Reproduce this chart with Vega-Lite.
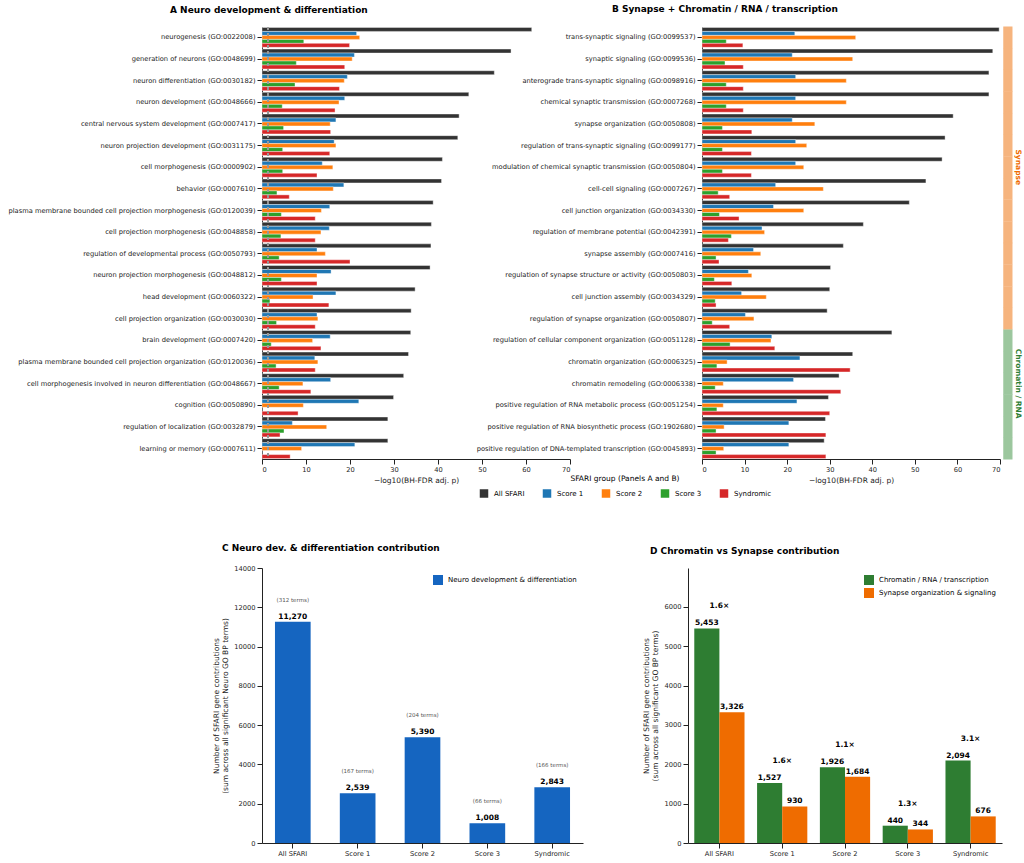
{
  "$schema": "https://vega.github.io/schema/vega-lite/v6.json",
  "background": "white",
  "spacing": 42,
  "config": {
    "font": "DejaVu Sans",
    "view": {"stroke": null},
    "axis": {"labelFontSize": 6.7, "titleFontSize": 7.5, "titleFontWeight": "normal", "labelColor": "#222", "titleColor": "#222", "domainColor": "#222", "tickColor": "#222", "grid": false},
    "title": {"fontSize": 9, "fontWeight": "bold", "anchor": "start", "frame": "group", "offset": 12},
    "legend": {"labelFontSize": 7, "titleFontSize": 7.5, "titleFontWeight": "normal", "symbolType": "square"}
  },
  "datasets": {
    "a": [
      {"t": "neurogenesis  (GO:0022008)", "All SFARI": 61.3, "Score 1": 21.5, "Score 2": 22.2, "Score 3": 9.5, "Syndromic": 19.9},
      {"t": "generation of neurons  (GO:0048699)", "All SFARI": 56.6, "Score 1": 21.0, "Score 2": 20.5, "Score 3": 7.8, "Syndromic": 18.8},
      {"t": "neuron differentiation  (GO:0030182)", "All SFARI": 52.8, "Score 1": 19.4, "Score 2": 18.7, "Score 3": 7.5, "Syndromic": 17.6},
      {"t": "neuron development  (GO:0048666)", "All SFARI": 47.0, "Score 1": 18.8, "Score 2": 17.5, "Score 3": 4.6, "Syndromic": 16.6},
      {"t": "central nervous system development  (GO:0007417)", "All SFARI": 44.8, "Score 1": 16.8, "Score 2": 15.5, "Score 3": 4.9, "Syndromic": 15.6},
      {"t": "neuron projection development  (GO:0031175)", "All SFARI": 44.5, "Score 1": 16.4, "Score 2": 16.8, "Score 3": 4.7, "Syndromic": 15.4},
      {"t": "cell morphogenesis  (GO:0000902)", "All SFARI": 41.0, "Score 1": 13.7, "Score 2": 16.1, "Score 3": 4.7, "Syndromic": 12.5},
      {"t": "behavior  (GO:0007610)", "All SFARI": 40.8, "Score 1": 18.6, "Score 2": 16.2, "Score 3": 3.4, "Syndromic": 6.2},
      {"t": "plasma membrane bounded cell projection morphogenesis  (GO:0120039)", "All SFARI": 38.9, "Score 1": 15.4, "Score 2": 13.5, "Score 3": 4.4, "Syndromic": 12.1},
      {"t": "cell projection morphogenesis  (GO:0048858)", "All SFARI": 38.5, "Score 1": 15.3, "Score 2": 13.4, "Score 3": 4.3, "Syndromic": 12.1},
      {"t": "regulation of developmental process  (GO:0050793)", "All SFARI": 38.4, "Score 1": 12.5, "Score 2": 14.4, "Score 3": 3.9, "Syndromic": 20.0},
      {"t": "neuron projection morphogenesis  (GO:0048812)", "All SFARI": 38.2, "Score 1": 15.7, "Score 2": 12.5, "Score 3": 4.4, "Syndromic": 12.5},
      {"t": "head development  (GO:0060322)", "All SFARI": 34.8, "Score 1": 16.8, "Score 2": 11.6, "Score 3": 1.8, "Syndromic": 15.2},
      {"t": "cell projection organization  (GO:0030030)", "All SFARI": 33.9, "Score 1": 12.5, "Score 2": 12.7, "Score 3": 3.3, "Syndromic": 12.1},
      {"t": "brain development  (GO:0007420)", "All SFARI": 33.8, "Score 1": 15.5, "Score 2": 11.5, "Score 3": 2.1, "Syndromic": 13.4},
      {"t": "plasma membrane bounded cell projection organization  (GO:0120036)", "All SFARI": 33.3, "Score 1": 12.0, "Score 2": 12.7, "Score 3": 3.2, "Syndromic": 12.1},
      {"t": "cell morphogenesis involved in neuron differentiation  (GO:0048667)", "All SFARI": 32.2, "Score 1": 15.6, "Score 2": 9.3, "Score 3": 3.9, "Syndromic": 11.1},
      {"t": "cognition  (GO:0050890)", "All SFARI": 29.9, "Score 1": 22.0, "Score 2": 9.4, "Score 3": 0, "Syndromic": 8.2},
      {"t": "regulation of localization  (GO:0032879)", "All SFARI": 28.6, "Score 1": 6.9, "Score 2": 14.7, "Score 3": 5.0, "Syndromic": 4.1},
      {"t": "learning or memory  (GO:0007611)", "All SFARI": 28.6, "Score 1": 21.1, "Score 2": 9.0, "Score 3": 0, "Syndromic": 6.4}
    ],
    "b": [
      {"t": "trans-synaptic signaling  (GO:0099537)", "grp": "Synapse", "All SFARI": 69.8, "Score 1": 21.8, "Score 2": 36.1, "Score 3": 5.7, "Syndromic": 9.6},
      {"t": "synaptic signaling  (GO:0099536)", "grp": "Synapse", "All SFARI": 68.3, "Score 1": 21.2, "Score 2": 35.4, "Score 3": 5.4, "Syndromic": 9.7},
      {"t": "anterograde trans-synaptic signaling  (GO:0098916)", "grp": "Synapse", "All SFARI": 67.4, "Score 1": 22.0, "Score 2": 33.9, "Score 3": 5.7, "Syndromic": 9.7},
      {"t": "chemical synaptic transmission  (GO:0007268)", "grp": "Synapse", "All SFARI": 67.4, "Score 1": 22.0, "Score 2": 33.9, "Score 3": 5.7, "Syndromic": 9.7},
      {"t": "synapse organization  (GO:0050808)", "grp": "Synapse", "All SFARI": 59.0, "Score 1": 21.2, "Score 2": 26.5, "Score 3": 4.8, "Syndromic": 11.7},
      {"t": "regulation of trans-synaptic signaling  (GO:0099177)", "grp": "Synapse", "All SFARI": 57.1, "Score 1": 22.0, "Score 2": 24.6, "Score 3": 4.8, "Syndromic": 11.6},
      {"t": "modulation of chemical synaptic transmission  (GO:0050804)", "grp": "Synapse", "All SFARI": 56.4, "Score 1": 22.0, "Score 2": 23.9, "Score 3": 4.8, "Syndromic": 11.6},
      {"t": "cell-cell signaling  (GO:0007267)", "grp": "Synapse", "All SFARI": 52.6, "Score 1": 17.3, "Score 2": 28.5, "Score 3": 3.8, "Syndromic": 6.5},
      {"t": "cell junction organization  (GO:0034330)", "grp": "Synapse", "All SFARI": 48.7, "Score 1": 16.8, "Score 2": 23.9, "Score 3": 4.1, "Syndromic": 8.7},
      {"t": "regulation of membrane potential  (GO:0042391)", "grp": "Synapse", "All SFARI": 37.9, "Score 1": 14.1, "Score 2": 14.7, "Score 3": 6.9, "Syndromic": 6.2},
      {"t": "synapse assembly  (GO:0007416)", "grp": "Synapse", "All SFARI": 33.2, "Score 1": 12.1, "Score 2": 13.8, "Score 3": 3.3, "Syndromic": 4.0},
      {"t": "regulation of synapse structure or activity  (GO:0050803)", "grp": "Synapse", "All SFARI": 30.2, "Score 1": 10.9, "Score 2": 11.7, "Score 3": 2.9, "Syndromic": 7.0},
      {"t": "cell junction assembly  (GO:0034329)", "grp": "Synapse", "All SFARI": 30.0, "Score 1": 9.3, "Score 2": 15.1, "Score 3": 3.1, "Syndromic": 3.3},
      {"t": "regulation of synapse organization  (GO:0050807)", "grp": "Synapse", "All SFARI": 29.4, "Score 1": 10.2, "Score 2": 12.2, "Score 3": 2.4, "Syndromic": 6.5},
      {"t": "regulation of cellular component organization  (GO:0051128)", "grp": "Chromatin / RNA", "All SFARI": 44.6, "Score 1": 16.4, "Score 2": 16.2, "Score 3": 6.6, "Syndromic": 17.1},
      {"t": "chromatin organization  (GO:0006325)", "grp": "Chromatin / RNA", "All SFARI": 35.4, "Score 1": 23.0, "Score 2": 5.9, "Score 3": 3.5, "Syndromic": 34.8},
      {"t": "chromatin remodeling  (GO:0006338)", "grp": "Chromatin / RNA", "All SFARI": 32.2, "Score 1": 21.5, "Score 2": 5.0, "Score 3": 3.1, "Syndromic": 32.6},
      {"t": "positive regulation of RNA metabolic process  (GO:0051254)", "grp": "Chromatin / RNA", "All SFARI": 29.7, "Score 1": 22.3, "Score 2": 5.0, "Score 3": 3.5, "Syndromic": 30.0},
      {"t": "positive regulation of RNA biosynthetic process  (GO:1902680)", "grp": "Chromatin / RNA", "All SFARI": 29.0, "Score 1": 20.4, "Score 2": 5.2, "Score 3": 3.3, "Syndromic": 29.1},
      {"t": "positive regulation of DNA-templated transcription  (GO:0045893)", "grp": "Chromatin / RNA", "All SFARI": 28.7, "Score 1": 20.4, "Score 2": 5.1, "Score 3": 3.3, "Syndromic": 29.1}
    ],
    "bandlabels": [
      {"t": "modulation of chemical synaptic transmission  (GO:0050804)", "grp": "Synapse"},
      {"t": "chromatin remodeling  (GO:0006338)", "grp": "Chromatin / RNA"}
    ],
    "c": [
      {"g": "All SFARI", "v": 11270, "terms": "(312 terms)"},
      {"g": "Score 1", "v": 2539, "terms": "(167 terms)"},
      {"g": "Score 2", "v": 5390, "terms": "(204 terms)"},
      {"g": "Score 3", "v": 1008, "terms": "(66 terms)"},
      {"g": "Syndromic", "v": 2843, "terms": "(166 terms)"}
    ],
    "d": [
      {"g": "All SFARI", "s": "Chromatin / RNA / transcription", "v": 5453},
      {"g": "All SFARI", "s": "Synapse organization & signaling", "v": 3326},
      {"g": "Score 1", "s": "Chromatin / RNA / transcription", "v": 1527},
      {"g": "Score 1", "s": "Synapse organization & signaling", "v": 930},
      {"g": "Score 2", "s": "Chromatin / RNA / transcription", "v": 1926},
      {"g": "Score 2", "s": "Synapse organization & signaling", "v": 1684},
      {"g": "Score 3", "s": "Chromatin / RNA / transcription", "v": 440},
      {"g": "Score 3", "s": "Synapse organization & signaling", "v": 344},
      {"g": "Syndromic", "s": "Chromatin / RNA / transcription", "v": 2094},
      {"g": "Syndromic", "s": "Synapse organization & signaling", "v": 676}
    ],
    "dratio": [
      {"g": "All SFARI", "r": "1.6×", "top": 5453},
      {"g": "Score 1", "r": "1.6×", "top": 1527},
      {"g": "Score 2", "r": "1.1×", "top": 1926},
      {"g": "Score 3", "r": "1.3×", "top": 440},
      {"g": "Syndromic", "r": "3.1×", "top": 2094}
    ]
  },
  "vconcat": [
    {
      "bounds": "flush",
      "spacing": 132,
      "hconcat": [
        {
          "width": 308,
          "height": 432,
          "title": {"text": "A     Neuro development & differentiation", "dx": -92},
          "data": {"name": "a"},
          "layer": [
            {
              "transform": [{"fold": ["All SFARI", "Score 1", "Score 2", "Score 3", "Syndromic"], "as": ["group", "v"]}],
              "mark": {"type": "bar", "stroke": "white", "strokeWidth": 0.4},
              "encoding": {
                "y": {"field": "t", "type": "nominal", "sort": null, "title": null, "scale": {"paddingInner": 0.08, "paddingOuter": 0.02}, "axis": {"labelLimit": 400}},
                "yOffset": {"field": "group", "type": "nominal", "sort": ["All SFARI", "Score 1", "Score 2", "Score 3", "Syndromic"], "scale": {"paddingInner": 0}},
                "x": {"field": "v", "type": "quantitative", "scale": {"domain": [0, 70], "nice": false}, "axis": {"values": [0, 10, 20, 30, 40, 50, 60, 70]}, "title": "−log10(BH-FDR adj. p)"},
                "color": {
                  "field": "group", "type": "nominal",
                  "scale": {"domain": ["All SFARI", "Score 1", "Score 2", "Score 3", "Syndromic"], "range": ["#333333", "#1f77b4", "#ff7f0e", "#2ca02c", "#d62728"]},
                  "legend": {"title": "SFARI group (Panels A and B)", "orient": "none", "legendX": 216, "legendY": 448, "direction": "horizontal", "titleAnchor": "middle", "columnPadding": 14}
                }
              }
            },
            {
              "mark": {"type": "rule", "strokeDash": [3, 3], "color": "#999", "strokeWidth": 0.8},
              "encoding": {"x": {"datum": 1.3}}
            }
          ]
        },
        {
          "width": 298,
          "height": 432,
          "title": {"text": "B     Synapse + Chromatin / RNA / transcription", "dx": -90},
          "layer": [
            {
              "data": {"name": "b"},
              "transform": [{"fold": ["All SFARI", "Score 1", "Score 2", "Score 3", "Syndromic"], "as": ["group", "v"]}],
              "mark": {"type": "bar", "stroke": "white", "strokeWidth": 0.4},
              "encoding": {
                "y": {"field": "t", "type": "nominal", "sort": null, "title": null, "scale": {"paddingInner": 0.08, "paddingOuter": 0.02}, "axis": {"labelLimit": 400}},
                "yOffset": {"field": "group", "type": "nominal", "sort": ["All SFARI", "Score 1", "Score 2", "Score 3", "Syndromic"], "scale": {"paddingInner": 0}},
                "x": {"field": "v", "type": "quantitative", "scale": {"domain": [0, 70], "nice": false}, "axis": {"values": [0, 10, 20, 30, 40, 50, 60, 70]}, "title": "−log10(BH-FDR adj. p)"},
                "color": {"field": "group", "type": "nominal", "scale": {"domain": ["All SFARI", "Score 1", "Score 2", "Score 3", "Syndromic"], "range": ["#333333", "#1f77b4", "#ff7f0e", "#2ca02c", "#d62728"]}, "legend": null}
              }
            },
            {
              "mark": {"type": "rule", "strokeDash": [3, 3], "color": "#999", "strokeWidth": 0.8},
              "encoding": {"x": {"datum": 1.3}}
            },
            {
              "data": {"name": "b"},
              "mark": {"type": "bar", "clip": false, "strokeWidth": 2},
              "encoding": {
                "y": {"field": "t", "type": "nominal", "sort": null},
                "x": {"datum": 71},
                "x2": {"datum": 72.7},
                "fill": {"field": "grp", "type": "nominal", "scale": {"domain": ["Synapse", "Chromatin / RNA"], "range": ["#F6B47E", "#9CC79E"]}, "legend": null},
                "stroke": {"field": "grp", "type": "nominal", "scale": {"domain": ["Synapse", "Chromatin / RNA"], "range": ["#F6B47E", "#9CC79E"]}, "legend": null}
              }
            },
            {
              "data": {"name": "bandlabels"},
              "transform": [{"filter": "datum.grp == 'Synapse'"}],
              "mark": {"type": "text", "angle": 90, "fontWeight": "bold", "fontSize": 7.5, "clip": false, "color": "#EF6C00"},
              "encoding": {
                "y": {"field": "t", "type": "nominal", "sort": null},
                "x": {"datum": 74.2},
                "text": {"field": "grp"}
              }
            },
            {
              "data": {"name": "bandlabels"},
              "transform": [{"filter": "datum.grp != 'Synapse'"}],
              "mark": {"type": "text", "angle": 90, "fontWeight": "bold", "fontSize": 7.5, "clip": false, "color": "#2E7D32"},
              "encoding": {
                "y": {"field": "t", "type": "nominal", "sort": null},
                "x": {"datum": 74.2},
                "text": {"field": "grp"}
              }
            }
          ],
          "resolve": {"scale": {"fill": "independent"}}
        }
      ],
      "resolve": {"scale": {"color": "independent", "y": "independent"}}
    },
    {
      "spacing": 59,
      "hconcat": [
        {
          "width": 321,
          "height": 275,
          "title": {"text": "C     Neuro dev. & differentiation contribution", "dx": -40},
          "data": {"name": "c"},
          "encoding": {
            "x": {"field": "g", "type": "nominal", "sort": null, "title": null, "scale": {"paddingInner": 0.45, "paddingOuter": 0.2}, "axis": {"labelAngle": 0}},
            "y": {"field": "v", "type": "quantitative", "scale": {"domain": [0, 14000]}, "axis": {"values": [0, 2000, 4000, 6000, 8000, 10000, 12000, 14000], "format": "d"}, "title": ["Number of SFARI gene contributions", "(sum across all significant Neuro GO BP terms)"]}
          },
          "layer": [
            {
              "mark": {"type": "bar"},
              "encoding": {
                "color": {"datum": "Neuro development & differentiation", "scale": {"range": ["#1565C0"]}, "legend": {"title": null, "orient": "top-right", "offset": 6}}
              }
            },
            {
              "mark": {"type": "text", "fontWeight": "bold", "fontSize": 7.5, "dy": -5},
              "encoding": {"text": {"field": "v", "format": ","}}
            },
            {
              "mark": {"type": "text", "fontSize": 5.5, "color": "#555", "dy": -22},
              "encoding": {"text": {"field": "terms"}}
            }
          ]
        },
        {
          "width": 314,
          "height": 275,
          "title": {"text": "D     Chromatin vs Synapse contribution", "dx": -38},
          "layer": [
            {
              "data": {"name": "d"},
              "encoding": {
                "x": {"field": "g", "type": "nominal", "sort": null, "title": null, "scale": {"paddingInner": 0.2, "paddingOuter": 0.1}, "axis": {"labelAngle": 0}},
                "xOffset": {"field": "s", "type": "nominal", "sort": null},
                "y": {"field": "v", "type": "quantitative", "scale": {"domain": [0, 6990], "nice": false}, "axis": {"values": [0, 1000, 2000, 3000, 4000, 5000, 6000], "format": "d"}, "title": ["Number of SFARI gene contributions", "(sum across all significant GO BP terms)"]}
              },
              "layer": [
                {
                  "mark": {"type": "bar"},
                  "encoding": {
                    "color": {"field": "s", "type": "nominal", "sort": null, "scale": {"range": ["#2E7D32", "#EF6C00"]}, "legend": {"title": null, "orient": "top-right", "offset": 6}}
                  }
                },
                {
                  "mark": {"type": "text", "fontWeight": "bold", "fontSize": 7.5, "dy": -5},
                  "encoding": {"text": {"field": "v", "format": ","}}
                }
              ]
            },
            {
              "data": {"name": "dratio"},
              "mark": {"type": "text", "fontWeight": "bold", "fontSize": 7.5, "dy": -22},
              "encoding": {
                "x": {"field": "g", "type": "nominal", "sort": null},
                "y": {"field": "top", "type": "quantitative"},
                "text": {"field": "r"}
              }
            }
          ]
        }
      ],
      "resolve": {"scale": {"color": "independent"}}
    }
  ],
  "resolve": {"scale": {"color": "independent"}}
}
